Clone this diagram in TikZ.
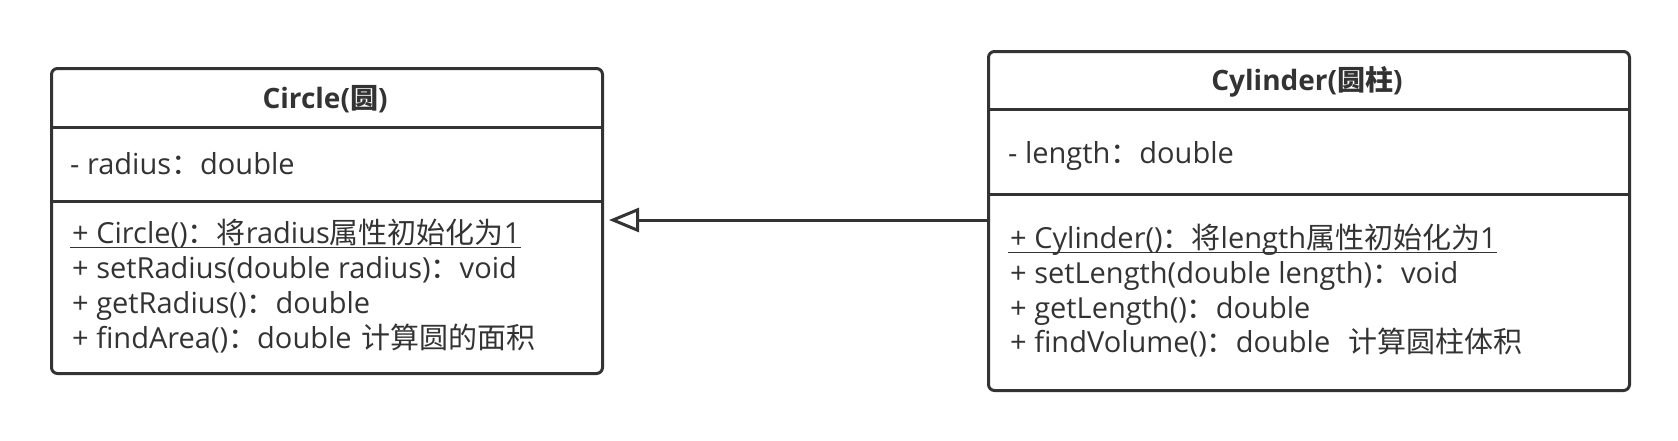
\documentclass[tikz,border=0pt]{standalone}
\usepackage{fontspec}
\setmainfont{Open Sans}
\newfontfamily\cjk{Noto Sans CJK SC}
\usetikzlibrary{arrows.meta}
\definecolor{ink}{HTML}{333333}
\tikzset{
  classbox/.style={draw=ink, line width=3pt, rounded corners=6pt, anchor=north west, inner sep=0pt},
  sepline/.style={draw=ink, line width=3pt},
  title/.style={font=\fontsize{28}{32}\selectfont\bfseries, text=ink, anchor=base, inner sep=0pt},
  member/.style={font=\fontsize{29}{33}\selectfont, text=ink, anchor=base west, inner sep=0pt},
  ulline/.style={draw=ink, line width=1.6pt},
  inherit/.style={draw=ink, line width=3pt, -{Triangle[open, length=30pt, width=24pt, line width=3pt]}}
}
\begin{document}
\begin{tikzpicture}[x=1pt,y=-1pt]
\useasboundingbox (0,0) rectangle (1678,440);
% Circle class
\node[classbox, minimum width=551pt, minimum height=305pt] (circ) at (50,67) {};
\draw[sepline] (circ.west |- 0,127) -- (circ.east |- 0,127);
\draw[sepline] (circ.west |- 0,201) -- (circ.east |- 0,201);
\node[title] (ct) at (325,108) {Circle({\cjk 圆})};
\node[member] (ca) at (70,174) {- radius{\cjk ：}double};
\node[member] (cm1) at (72,243) {+ Circle(){\cjk ：将}radius{\cjk 属性初始化为}1};
\draw[ulline] ([xshift=-2pt,yshift=-4.5pt]cm1.base west) -- ([yshift=-4.5pt]cm1.base east);
\node[member] (cm2) at (72,278) {+ setRadius(double radius){\cjk ：}void};
\node[member] (cm3) at (72,313) {+ getRadius(){\cjk ：}double};
\node[member] (cm4) at (72,348) {+ findArea(){\cjk ：}double\hspace{10pt}{\cjk 计算圆的面积}};
% Cylinder class
\node[classbox, minimum width=641pt, minimum height=339pt] (cyl) at (987,50) {};
\draw[sepline] (cyl.west |- 0,109) -- (cyl.east |- 0,109);
\draw[sepline] (cyl.west |- 0,194) -- (cyl.east |- 0,194);
\node[title] (yt) at (1307,90) {Cylinder({\cjk 圆柱})};
\node[member] (ya) at (1008,163) {- length{\cjk ：}double};
\node[member] (ym1) at (1010,248) {+ Cylinder(){\cjk ：将}length{\cjk 属性初始化为}1};
\draw[ulline] ([xshift=-2pt,yshift=-4.5pt]ym1.base west) -- ([yshift=-4.5pt]ym1.base east);
\node[member] (ym2) at (1010,283) {+ setLength(double length){\cjk ：}void};
\node[member] (ym3) at (1010,318) {+ getLength(){\cjk ：}double};
\node[member] (ym4) at (1010,352) {+ findVolume(){\cjk ：}double\hspace{18pt}{\cjk 计算圆柱体积}};
% Generalization
\coordinate (tip) at (609,220);
\draw[inherit] (cyl.west |- tip) -- (tip);
\end{tikzpicture}
\end{document}
